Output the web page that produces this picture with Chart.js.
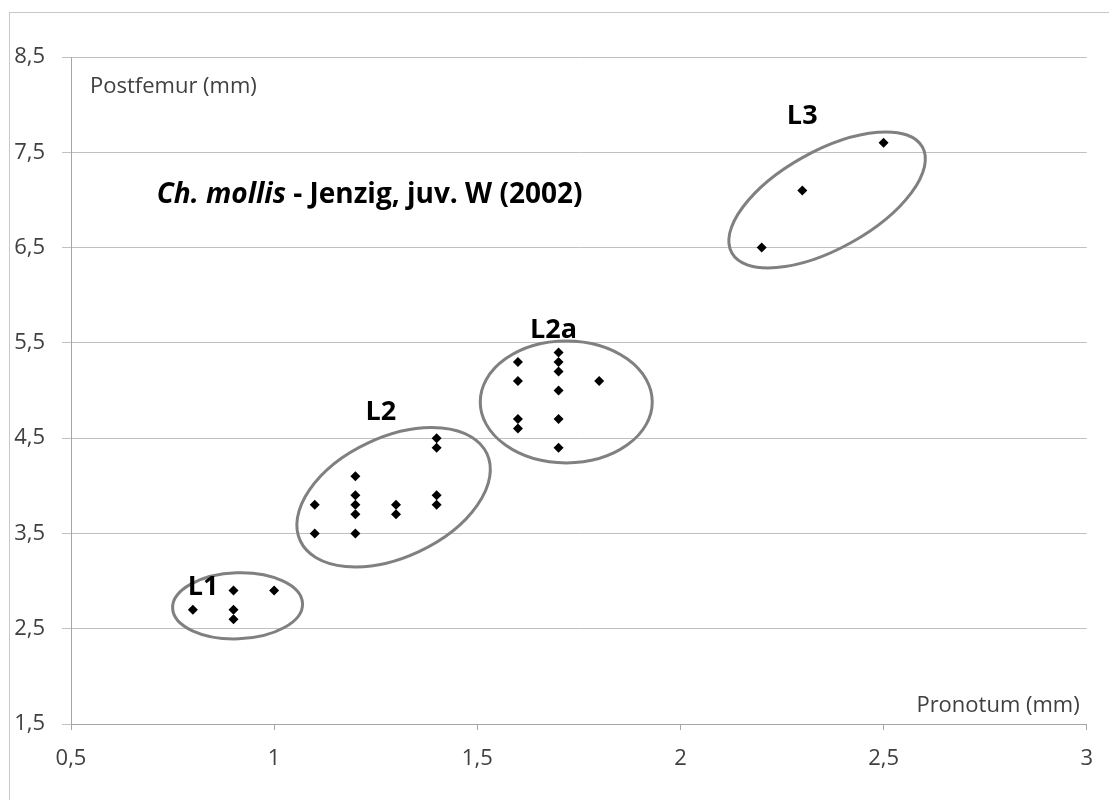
<!DOCTYPE html>
<html>
<head>
<meta charset="utf-8">
<script src="https://cdn.jsdelivr.net/npm/chart.js@4.4.1/dist/chart.umd.min.js"></script>
<style>
  html, body { margin: 0; padding: 0; background: #fff; }
  #wrap { position: relative; width: 1109px; height: 800px; }
</style>
</head>
<body>
<div id="wrap"><canvas id="chartScatter"></canvas></div>
<script>
"use strict";

/* Pronotum (x) und Postfemur (y) je Larvenstadium, in mm */
var pronotumL1  = [0.8, 0.9, 0.9, 0.9, 1.0];
var postfemurL1 = [2.7, 2.9, 2.7, 2.6, 2.9];

var pronotumL2  = [1.1, 1.1, 1.2, 1.2, 1.2, 1.2, 1.2, 1.3, 1.3, 1.4, 1.4, 1.4, 1.4];
var postfemurL2 = [3.8, 3.5, 4.1, 3.9, 3.8, 3.7, 3.5, 3.8, 3.7, 4.5, 4.4, 3.9, 3.8];

var pronotumL2a  = [1.6, 1.6, 1.6, 1.6, 1.7, 1.7, 1.7, 1.7, 1.7, 1.7, 1.8];
var postfemurL2a = [5.3, 5.1, 4.7, 4.6, 5.4, 5.3, 5.2, 5.0, 4.7, 4.4, 5.1];

var pronotumL3  = [2.2, 2.3, 2.5];
var postfemurL3 = [6.5, 7.1, 7.6];

var xTicks = [0.5, 1, 1.5, 2, 2.5, 3];
var yTicks = [1.5, 2.5, 3.5, 4.5, 5.5, 6.5, 7.5, 8.5];

var groupNames = ['L1', 'L2', 'L2a', 'L3'];

/* Ellipsen um die Gruppen: Mitte in mm, Halbachsen in px, Drehung in Grad */
var ellipses = [
  { cx: 0.910, cy: 2.74, rx: 65,  ry: 33, rot: -2 },
  { cx: 1.294, cy: 3.88, rx: 103, ry: 60, rot: -25 },
  { cx: 1.719, cy: 4.88, rx: 86,  ry: 61, rot: 0 },
  { cx: 2.361, cy: 7.00, rx: 109, ry: 49, rot: -29 }
];

/* Beschriftung der Gruppen (linke Kante, Grundlinie, in mm) */
var groupLabelPos = [
  { x: 0.7875, y: 2.854 },
  { x: 1.2248, y: 4.690 },
  { x: 1.630,  y: 5.551 },
  { x: 2.262,  y: 7.797 }
];
var titlePos = { x: 0.711, y: 6.968 };

var FONT = "'Open Sans', Lato, sans-serif";

function fmt(v) {
  return String(v).replace('.', ',');
}

function pts(xs, ys) {
  return xs.map(function (x, i) { return { x: x, y: ys[i] }; });
}

var annotPlugin = {
  id: 'annot',
  beforeDraw: function (chart) {
    var ctx = chart.ctx;
    ctx.save();
    ctx.strokeStyle = '#c8c8c8';
    ctx.lineWidth = 1;
    ctx.strokeRect(9.5, 12.5, 1300, 1000);
    ctx.restore();
  },
  beforeDatasetsDraw: function (chart) {
    var ctx = chart.ctx, sx = chart.scales.x, sy = chart.scales.y;
    ctx.save();
    ctx.strokeStyle = '#808080';
    ctx.lineWidth = 3;
    ellipses.forEach(function (e) {
      ctx.beginPath();
      ctx.ellipse(sx.getPixelForValue(e.cx), sy.getPixelForValue(e.cy),
                  e.rx, e.ry, e.rot * Math.PI / 180, 0, 2 * Math.PI);
      ctx.stroke();
    });
    ctx.restore();
  },
  afterDatasetsDraw: function (chart) {
    var ctx = chart.ctx, sx = chart.scales.x, sy = chart.scales.y;
    var area = chart.chartArea;
    ctx.save();
    ctx.textBaseline = 'alphabetic';

    /* Achsentitel */
    ctx.fillStyle = '#404040';
    ctx.font = '22px ' + FONT;
    ctx.textAlign = 'left';
    ctx.fillText('Postfemur (mm)', area.left + 19, area.top + 36);
    ctx.textAlign = 'right';
    ctx.fillText('Pronotum (mm)', area.right - 7, area.bottom - 12);

    /* Gruppen */
    ctx.fillStyle = '#000';
    ctx.textAlign = 'left';
    ctx.font = 'bold 27px ' + FONT;
    groupNames.forEach(function (g, i) {
      var p = groupLabelPos[i];
      ctx.fillText(g, sx.getPixelForValue(p.x), sy.getPixelForValue(p.y));
    });

    /* Titel */
    var tx = sx.getPixelForValue(titlePos.x), ty = sy.getPixelForValue(titlePos.y);
    ctx.font = 'italic bold 28px ' + FONT;
    ctx.fillText('Ch. mollis', tx, ty);
    tx += ctx.measureText('Ch. mollis').width;
    ctx.font = 'bold 28px ' + FONT;
    ctx.fillText(' - Jenzig, juv. W (2002)', tx, ty);
    ctx.restore();
  }
};

var charts = {};

charts.scatter = new Chart(document.getElementById('chartScatter'), {
  type: 'scatter',
  data: {
    datasets: [
      { label: 'L1',  data: pts(pronotumL1,  postfemurL1) },
      { label: 'L2',  data: pts(pronotumL2,  postfemurL2) },
      { label: 'L2a', data: pts(pronotumL2a, postfemurL2a) },
      { label: 'L3',  data: pts(pronotumL3,  postfemurL3) }
    ].map(function (d) {
      d.pointStyle = 'rectRot';
      d.pointRadius = 5;
      d.pointBorderWidth = 0;
      d.backgroundColor = '#000';
      d.borderColor = '#000';
      return d;
    })
  },
  options: {
    responsive: true,
    maintainAspectRatio: false,
    animation: false,
    layout: { padding: { left: 0, top: 57, right: 21, bottom: 0 } },
    plugins: {
      legend: { display: false },
      tooltip: { enabled: false }
    },
    scales: {
      x: {
        type: 'linear',
        min: xTicks[0],
        max: xTicks[xTicks.length - 1],
        afterFit: function (s) { s.height = 76; },
        ticks: {
          stepSize: xTicks[1] - xTicks[0],
          callback: fmt,
          color: '#404040',
          padding: 16,
          font: { family: FONT, size: 22 }
        },
        grid: { drawOnChartArea: false, tickLength: 6, color: '#a6a6a6' },
        border: { color: '#a6a6a6' }
      },
      y: {
        type: 'linear',
        min: yTicks[0],
        max: yTicks[yTicks.length - 1],
        afterFit: function (s) { s.width = 71; },
        ticks: {
          stepSize: yTicks[1] - yTicks[0],
          callback: fmt,
          color: '#404040',
          padding: 17,
          font: { family: FONT, size: 22 }
        },
        grid: { color: '#c0c0c0', tickLength: 9 },
        border: { color: '#a6a6a6' }
      }
    }
  },
  plugins: [annotPlugin]
});
</script>
</body>
</html>
